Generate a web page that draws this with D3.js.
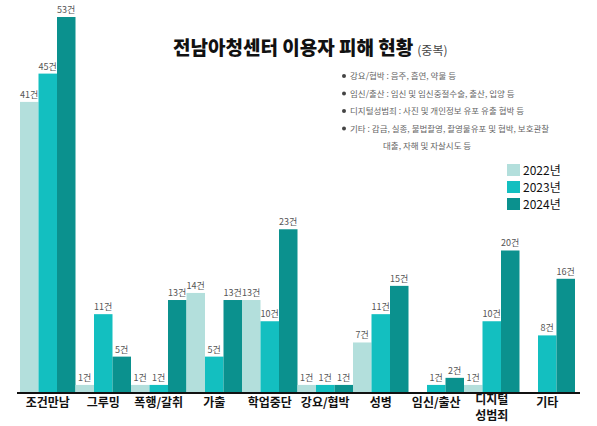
<!DOCTYPE html>
<html>
<head>
<meta charset="utf-8">
<script src="https://cdn.jsdelivr.net/npm/d3@7"></script>
<style>
  body { margin: 0; background: #fff; }
  text { font-family: "Noto Sans CJK KR", "Noto Sans", sans-serif; }
</style>
</head>
<body>
<script>
var categories = ["조건만남", "그루밍", "폭행/갈취", "가출", "학업중단", "강요/협박", "성병", "임신/출산", "디지털성범죄", "기타"];
var catLabels = [["조건만남"], ["그루밍"], ["폭행/갈취"], ["가출"], ["학업중단"], ["강요/협박"], ["성병"], ["임신/출산"], ["디지털", "성범죄"], ["기타"]];
var years = ["2022년", "2023년", "2024년"];
var v2022 = [41, 1, 1, 14, 13, 1, 7, 0, 1, 0];
var v2023 = [45, 11, 1, 5, 10, 1, 11, 1, 10, 8];
var v2024 = [53, 5, 13, 13, 23, 1, 15, 2, 20, 16];
var notes = [
  "강요/협박 : 음주, 흡연, 약물 등",
  "임신/출산 : 임신 및 임신중절수술, 출산, 입양 등",
  "디지털성범죄 : 사진 및 개인정보 유포 유출 협박 등",
  "기타 : 감금, 실종, 불법촬영, 촬영물유포 및 협박, 보호관찰",
  "대출, 자해 및 자살시도 등"
];

var w = 597;
var h = 426;
var colors = ["#b3dfdc", "#13bfc0", "#0b918e"];
var series = [v2022, v2023, v2024];

var svg = d3.select("body")
  .append("svg")
  .attr("width", w)
  .attr("height", h);

var x = d3.scaleBand()
  .domain(categories)
  .range([20, 575])
  .padding(0);

var xi = d3.scaleBand()
  .domain(years)
  .range([0, x.bandwidth()])
  .padding(0);

var y = d3.scaleLinear()
  .domain([0, 53])
  .range([392, 17]);

var data = [];
categories.forEach(function(c, i) {
  years.forEach(function(yr, j) {
    data.push({ cat: c, year: yr, value: series[j][i], color: colors[j] });
  });
});

// bars
svg.selectAll("rect.bar")
  .data(data)
  .enter()
  .append("rect")
  .attr("class", "bar")
  .attr("x", function(d) { return x(d.cat) + xi(d.year); })
  .attr("y", function(d) { return y(d.value); })
  .attr("width", xi.bandwidth())
  .attr("height", function(d) { return y(0) - y(d.value); })
  .attr("fill", function(d) { return d.color; });

// value labels
svg.selectAll("text.val")
  .data(data.filter(function(d) { return d.value > 0; }))
  .enter()
  .append("text")
  .attr("class", "val")
  .attr("x", function(d) { return x(d.cat) + xi(d.year) + xi.bandwidth() / 2; })
  .attr("y", function(d) { return y(d.value) - 4; })
  .attr("text-anchor", "middle")
  .attr("font-size", "9px")
  .attr("fill", "#555")
  .text(function(d) { return d.value + "건"; });

// axis line
svg.append("line")
  .attr("x1", 17)
  .attr("x2", 580)
  .attr("y1", 393)
  .attr("y2", 393)
  .attr("stroke", "#111")
  .attr("stroke-width", 2);

// category labels
var cl = svg.selectAll("text.cat")
  .data(categories)
  .enter()
  .append("text")
  .attr("class", "cat")
  .attr("text-anchor", "middle")
  .attr("font-size", "12px")
  .attr("font-weight", "bold")
  .attr("fill", "#111");
cl.each(function(d, i) {
  var t = d3.select(this);
  catLabels[i].forEach(function(s, k) {
    t.append("tspan")
      .attr("x", x(d) + x.bandwidth() / 2)
      .attr("y", 407 - (catLabels[i].length - 1) * 3 + k * 16)
      .text(s);
  });
});

// title
var title = svg.append("text")
  .attr("x", 173)
  .attr("y", 55)
  .attr("fill", "#111");
title.append("tspan")
  .attr("font-size", "19px")
  .attr("font-weight", "900")
  .text("전남아청센터 이용자 피해 현황");
title.append("tspan")
  .attr("dx", 4)
  .attr("font-size", "12px")
  .attr("fill", "#444")
  .text("(중복)");

// notes
var ng = svg.selectAll("g.note")
  .data(notes)
  .enter()
  .append("g")
  .attr("class", "note")
  .attr("transform", function(d, i) { return "translate(342," + (79 + i * 17.5) + ")"; });
ng.filter(function(d, i) { return i < 4; })
  .append("circle")
  .attr("cx", 2)
  .attr("cy", -3)
  .attr("r", 2)
  .attr("fill", "#444");
ng.append("text")
  .attr("x", function(d, i) { return i == 4 ? 41 : 8; })
  .attr("font-size", "8.5px")
  .attr("fill", "#666")
  .text(function(d) { return d; });

// legend
var lg = svg.selectAll("g.legend")
  .data(years)
  .enter()
  .append("g")
  .attr("class", "legend")
  .attr("transform", function(d, i) { return "translate(507," + (164 + i * 17) + ")"; });
lg.append("rect")
  .attr("width", 13)
  .attr("height", 12)
  .attr("fill", function(d, i) { return colors[i]; });
lg.append("text")
  .attr("x", 16)
  .attr("y", 11)
  .attr("font-size", "12px")
  .attr("fill", "#111")
  .text(function(d) { return d; });
</script>
</body>
</html>
